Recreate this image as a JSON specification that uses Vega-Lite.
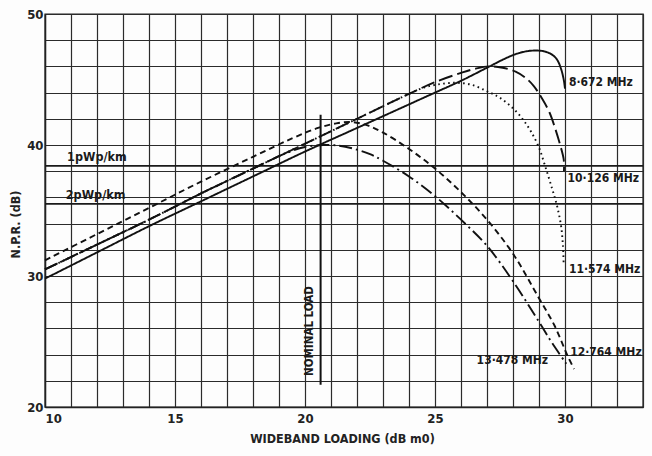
{
  "$schema": "https://vega.github.io/schema/vega-lite/v6.json",
  "autosize": {"type": "none"},
  "width": 598,
  "height": 393,
  "padding": {"left": 45, "top": 14, "right": 9, "bottom": 49},
  "background": "#fdfdfd",
  "config": {
    "view": {"stroke": "#222", "strokeWidth": 1.4},
    "font": "DejaVu Sans Condensed",
    "axis": {
      "grid": true,
      "gridColor": "#2b2b2b",
      "gridWidth": 1.2,
      "gridOpacity": 1,
      "domainColor": "#222",
      "domainWidth": 1.4,
      "ticks": false,
      "labelOverlap": false,
      "labelFont": "DejaVu Sans Condensed",
      "labelFontWeight": "bold",
      "labelFontSize": 13,
      "labelColor": "#222",
      "titleFont": "DejaVu Sans Condensed",
      "titleFontWeight": "bold",
      "titleFontSize": 12.5,
      "titleColor": "#222"
    }
  },
  "datasets": {
    "curves": [
      {"series": "8.672 MHz", "i": 0, "x": 10, "y": 29.8},
      {"series": "8.672 MHz", "i": 1, "x": 12, "y": 31.8},
      {"series": "8.672 MHz", "i": 2, "x": 14, "y": 33.8},
      {"series": "8.672 MHz", "i": 3, "x": 16, "y": 35.7},
      {"series": "8.672 MHz", "i": 4, "x": 18, "y": 37.6},
      {"series": "8.672 MHz", "i": 5, "x": 20, "y": 39.5},
      {"series": "8.672 MHz", "i": 6, "x": 22, "y": 41.3},
      {"series": "8.672 MHz", "i": 7, "x": 24, "y": 43.1},
      {"series": "8.672 MHz", "i": 8, "x": 25, "y": 44.0},
      {"series": "8.672 MHz", "i": 9, "x": 26, "y": 44.9},
      {"series": "8.672 MHz", "i": 10, "x": 27, "y": 45.9},
      {"series": "8.672 MHz", "i": 11, "x": 27.7, "y": 46.6},
      {"series": "8.672 MHz", "i": 12, "x": 28.2, "y": 47.0},
      {"series": "8.672 MHz", "i": 13, "x": 28.7, "y": 47.2},
      {"series": "8.672 MHz", "i": 14, "x": 29.2, "y": 47.15},
      {"series": "8.672 MHz", "i": 15, "x": 29.5, "y": 46.9},
      {"series": "8.672 MHz", "i": 16, "x": 29.7, "y": 46.5},
      {"series": "8.672 MHz", "i": 17, "x": 29.85, "y": 45.8},
      {"series": "8.672 MHz", "i": 18, "x": 29.95, "y": 45.0},
      {"series": "8.672 MHz", "i": 19, "x": 30.0, "y": 44.3},

      {"series": "10.126 MHz", "i": 0, "x": 10, "y": 30.5},
      {"series": "10.126 MHz", "i": 1, "x": 12, "y": 32.4},
      {"series": "10.126 MHz", "i": 2, "x": 14, "y": 34.3},
      {"series": "10.126 MHz", "i": 3, "x": 16, "y": 36.3},
      {"series": "10.126 MHz", "i": 4, "x": 18, "y": 38.2},
      {"series": "10.126 MHz", "i": 5, "x": 20, "y": 40.1},
      {"series": "10.126 MHz", "i": 6, "x": 22, "y": 42.0},
      {"series": "10.126 MHz", "i": 7, "x": 24, "y": 43.9},
      {"series": "10.126 MHz", "i": 8, "x": 25, "y": 44.8},
      {"series": "10.126 MHz", "i": 9, "x": 26, "y": 45.5},
      {"series": "10.126 MHz", "i": 10, "x": 26.6, "y": 45.85},
      {"series": "10.126 MHz", "i": 11, "x": 27.1, "y": 46.0},
      {"series": "10.126 MHz", "i": 12, "x": 27.6, "y": 45.9},
      {"series": "10.126 MHz", "i": 13, "x": 28.1, "y": 45.6},
      {"series": "10.126 MHz", "i": 14, "x": 28.5, "y": 45.1},
      {"series": "10.126 MHz", "i": 15, "x": 28.8, "y": 44.5},
      {"series": "10.126 MHz", "i": 16, "x": 29.1, "y": 43.6},
      {"series": "10.126 MHz", "i": 17, "x": 29.4, "y": 42.5},
      {"series": "10.126 MHz", "i": 18, "x": 29.6, "y": 41.4},
      {"series": "10.126 MHz", "i": 19, "x": 29.8, "y": 40.1},
      {"series": "10.126 MHz", "i": 20, "x": 29.95, "y": 38.9},
      {"series": "10.126 MHz", "i": 21, "x": 29.96, "y": 38.0},

      {"series": "11.574 MHz", "i": 0, "x": 10, "y": 30.5},
      {"series": "11.574 MHz", "i": 1, "x": 12, "y": 32.4},
      {"series": "11.574 MHz", "i": 2, "x": 14, "y": 34.3},
      {"series": "11.574 MHz", "i": 3, "x": 16, "y": 36.3},
      {"series": "11.574 MHz", "i": 4, "x": 18, "y": 38.2},
      {"series": "11.574 MHz", "i": 5, "x": 20, "y": 40.1},
      {"series": "11.574 MHz", "i": 6, "x": 22, "y": 42.0},
      {"series": "11.574 MHz", "i": 7, "x": 24, "y": 43.9},
      {"series": "11.574 MHz", "i": 8, "x": 24.6, "y": 44.4},
      {"series": "11.574 MHz", "i": 9, "x": 25.2, "y": 44.65},
      {"series": "11.574 MHz", "i": 10, "x": 25.8, "y": 44.75},
      {"series": "11.574 MHz", "i": 11, "x": 26.4, "y": 44.6},
      {"series": "11.574 MHz", "i": 12, "x": 27, "y": 44.1},
      {"series": "11.574 MHz", "i": 13, "x": 27.5, "y": 43.6},
      {"series": "11.574 MHz", "i": 14, "x": 28, "y": 42.8},
      {"series": "11.574 MHz", "i": 15, "x": 28.4, "y": 41.9},
      {"series": "11.574 MHz", "i": 16, "x": 28.7, "y": 41.0},
      {"series": "11.574 MHz", "i": 17, "x": 29, "y": 39.8},
      {"series": "11.574 MHz", "i": 18, "x": 29.25, "y": 38.3},
      {"series": "11.574 MHz", "i": 19, "x": 29.5, "y": 36.7},
      {"series": "11.574 MHz", "i": 20, "x": 29.7, "y": 35.3},
      {"series": "11.574 MHz", "i": 21, "x": 29.85, "y": 33.8},
      {"series": "11.574 MHz", "i": 22, "x": 29.92, "y": 32.3},
      {"series": "11.574 MHz", "i": 23, "x": 29.95, "y": 30.8},

      {"series": "12.764 MHz", "i": 0, "x": 10, "y": 31.2},
      {"series": "12.764 MHz", "i": 1, "x": 12, "y": 33.2},
      {"series": "12.764 MHz", "i": 2, "x": 14, "y": 35.2},
      {"series": "12.764 MHz", "i": 3, "x": 16, "y": 37.2},
      {"series": "12.764 MHz", "i": 4, "x": 18, "y": 39.1},
      {"series": "12.764 MHz", "i": 5, "x": 19.5, "y": 40.5},
      {"series": "12.764 MHz", "i": 6, "x": 20.5, "y": 41.3},
      {"series": "12.764 MHz", "i": 7, "x": 21.2, "y": 41.65},
      {"series": "12.764 MHz", "i": 8, "x": 21.8, "y": 41.75},
      {"series": "12.764 MHz", "i": 9, "x": 22.4, "y": 41.5},
      {"series": "12.764 MHz", "i": 10, "x": 23, "y": 40.95},
      {"series": "12.764 MHz", "i": 11, "x": 24, "y": 39.7},
      {"series": "12.764 MHz", "i": 12, "x": 25, "y": 38.2},
      {"series": "12.764 MHz", "i": 13, "x": 26, "y": 36.4},
      {"series": "12.764 MHz", "i": 14, "x": 27, "y": 34.3},
      {"series": "12.764 MHz", "i": 15, "x": 28, "y": 31.7},
      {"series": "12.764 MHz", "i": 16, "x": 29, "y": 28.3},
      {"series": "12.764 MHz", "i": 17, "x": 29.6, "y": 26.2},
      {"series": "12.764 MHz", "i": 18, "x": 30.1, "y": 23.9},
      {"series": "12.764 MHz", "i": 19, "x": 30.35, "y": 22.9},

      {"series": "13.478 MHz", "i": 0, "x": 10, "y": 30.5},
      {"series": "13.478 MHz", "i": 1, "x": 12, "y": 32.4},
      {"series": "13.478 MHz", "i": 2, "x": 14, "y": 34.3},
      {"series": "13.478 MHz", "i": 3, "x": 16, "y": 36.3},
      {"series": "13.478 MHz", "i": 4, "x": 18, "y": 38.2},
      {"series": "13.478 MHz", "i": 5, "x": 19.3, "y": 39.4},
      {"series": "13.478 MHz", "i": 6, "x": 20, "y": 39.85},
      {"series": "13.478 MHz", "i": 7, "x": 20.7, "y": 40.0},
      {"series": "13.478 MHz", "i": 8, "x": 21.3, "y": 39.95},
      {"series": "13.478 MHz", "i": 9, "x": 21.9, "y": 39.7},
      {"series": "13.478 MHz", "i": 10, "x": 22.5, "y": 39.3},
      {"series": "13.478 MHz", "i": 11, "x": 23, "y": 38.8},
      {"series": "13.478 MHz", "i": 12, "x": 24, "y": 37.6},
      {"series": "13.478 MHz", "i": 13, "x": 25, "y": 36.1},
      {"series": "13.478 MHz", "i": 14, "x": 26, "y": 34.3},
      {"series": "13.478 MHz", "i": 15, "x": 27, "y": 32.3},
      {"series": "13.478 MHz", "i": 16, "x": 28, "y": 29.6},
      {"series": "13.478 MHz", "i": 17, "x": 29, "y": 26.5},
      {"series": "13.478 MHz", "i": 18, "x": 29.5, "y": 24.9},
      {"series": "13.478 MHz", "i": 19, "x": 30.05, "y": 23.3}
    ],
    "levels": [
      {"level": "1pWp/km", "npr": 38.4},
      {"level": "2pWp/km", "npr": 35.5}
    ],
    "levelText": [
      {"text": "1pWp/km", "x": 10.85, "y": 39.1},
      {"text": "2pWp/km", "x": 10.8, "y": 36.15}
    ],
    "nominal": [
      {"load": 20.6, "from": 21.7, "to": 42.3}
    ],
    "nominalText": [
      {"text": "NOMINAL LOAD", "x": 20.2, "y": 25.8}
    ],
    "freqRight": [
      {"text": "8·672 MHz", "x": 30.15, "y": 44.8},
      {"text": "10·126 MHz", "x": 30.1, "y": 37.5},
      {"text": "11·574 MHz", "x": 30.15, "y": 30.5},
      {"text": "12·764 MHz", "x": 30.2, "y": 24.2}
    ],
    "freqLeft": [
      {"text": "13·478 MHz", "x": 29.35, "y": 23.6}
    ]
  },
  "layer": [
    {
      "data": {"name": "levels"},
      "mark": {"type": "rule", "color": "#1a1a1a", "strokeWidth": 1.8},
      "encoding": {
        "y": {
          "field": "npr",
          "type": "quantitative",
          "scale": {"domain": [20, 50], "nice": false, "zero": false},
          "axis": {
            "title": "N.P.R. (dB)",
            "values": [20, 22, 24, 26, 28, 30, 32, 34, 36, 38, 40, 42, 44, 46, 48, 50],
            "tickCount": 40,
            "format": "d",
            "labelExpr": "datum.value % 10 === 0 ? datum.label : ''",
            "labelPadding": 2,
            "titleX": -30,
            "titleY": 210,
            "titleBaseline": "middle",
            "titleAngle": 270
          }
        }
      }
    },
    {
      "data": {"name": "curves"},
      "mark": {"type": "line", "color": "#111", "strokeWidth": 1.9, "interpolate": "catmull-rom"},
      "encoding": {
        "x": {
          "field": "x",
          "type": "quantitative",
          "scale": {"domain": [10, 33], "nice": false, "zero": false},
          "axis": {
            "title": "WIDEBAND LOADING (dB m0)",
            "values": [10, 11, 12, 13, 14, 15, 16, 17, 18, 19, 20, 21, 22, 23, 24, 25, 26, 27, 28, 29, 30, 31, 32, 33],
            "tickCount": 40,
            "format": "d",
            "labelExpr": "datum.value % 5 === 0 && datum.value <= 30 ? datum.label : ''",
            "labelFlush": true,
            "labelPadding": 5,
            "titleX": 297,
            "titleY": 31,
            "titleBaseline": "middle"
          }
        },
        "y": {"field": "y", "type": "quantitative"},
        "detail": {"field": "series"},
        "order": {"field": "i", "type": "quantitative"},
        "strokeDash": {
          "field": "series",
          "type": "nominal",
          "scale": {
            "domain": ["8.672 MHz", "10.126 MHz", "11.574 MHz", "12.764 MHz", "13.478 MHz"],
            "range": [[1, 0], [14, 5], [1.6, 3.4], [6, 4], [13, 4, 2, 4]]
          },
          "legend": null
        }
      }
    },
    {
      "data": {"name": "nominal"},
      "mark": {"type": "rule", "color": "#111", "strokeWidth": 2},
      "encoding": {
        "x": {"field": "load", "type": "quantitative"},
        "y": {"field": "from", "type": "quantitative"},
        "y2": {"field": "to"}
      }
    },
    {
      "data": {"name": "nominalText"},
      "mark": {"type": "text", "angle": 270, "font": "DejaVu Sans Condensed", "fontWeight": "bold", "fontSize": 11.5, "color": "#1a1a1a", "align": "center", "baseline": "middle"},
      "encoding": {
        "x": {"field": "x", "type": "quantitative"},
        "y": {"field": "y", "type": "quantitative"},
        "text": {"field": "text"}
      }
    },
    {
      "data": {"name": "levelText"},
      "mark": {"type": "text", "font": "DejaVu Sans Condensed", "fontWeight": "bold", "fontSize": 12.5, "color": "#1a1a1a", "align": "left", "baseline": "middle"},
      "encoding": {
        "x": {"field": "x", "type": "quantitative"},
        "y": {"field": "y", "type": "quantitative"},
        "text": {"field": "text"}
      }
    },
    {
      "data": {"name": "freqRight"},
      "mark": {"type": "text", "font": "DejaVu Sans Condensed", "fontWeight": "bold", "fontSize": 12, "color": "#1a1a1a", "align": "left", "baseline": "middle"},
      "encoding": {
        "x": {"field": "x", "type": "quantitative"},
        "y": {"field": "y", "type": "quantitative"},
        "text": {"field": "text"}
      }
    },
    {
      "data": {"name": "freqLeft"},
      "mark": {"type": "text", "font": "DejaVu Sans Condensed", "fontWeight": "bold", "fontSize": 12, "color": "#1a1a1a", "align": "right", "baseline": "middle"},
      "encoding": {
        "x": {"field": "x", "type": "quantitative"},
        "y": {"field": "y", "type": "quantitative"},
        "text": {"field": "text"}
      }
    }
  ]
}
